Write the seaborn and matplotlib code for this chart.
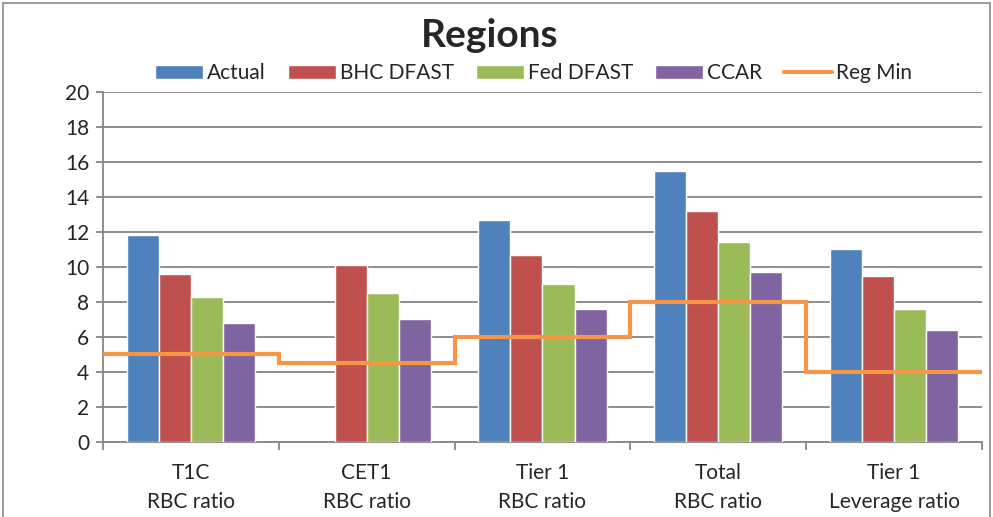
#!/usr/bin/env python3
"""
Regions capital ratios chart
Actual vs stress test results with regulatory minimum
"""

import numpy as np
import pandas as pd
import matplotlib.pyplot as plt
import seaborn as sns
from matplotlib.patches import Patch, Rectangle
from matplotlib.lines import Line2D
from matplotlib.ticker import FixedLocator

# Data
categories = ['T1C\nRBC ratio', 'CET1\nRBC ratio', 'Tier 1\nRBC ratio',
              'Total\nRBC ratio', 'Tier 1\nLeverage ratio']
series_names = ['Actual', 'BHC DFAST', 'Fed DFAST', 'CCAR']
actual = [11.8, np.nan, 12.7, 15.5, 11.0]
bhc_dfast = [9.6, 10.1, 10.7, 13.2, 9.5]
fed_dfast = [8.3, 8.5, 9.0, 11.4, 7.6]
ccar = [6.8, 7.0, 7.6, 9.7, 6.4]
reg_min = [5.0, 4.5, 6.0, 8.0, 4.0]

colors = ['#4F81BD', '#C0504D', '#9BBB59', '#8064A2']
line_color = '#F79646'
grid_color = '#868686'

sns.set_style('white')
plt.rcParams['font.family'] = ['Lato', 'DejaVu Sans']

# Long table for seaborn
df = pd.DataFrame({
    'category': categories * 4,
    'series': np.repeat(series_names, len(categories)),
    'value': actual + bhc_dfast + fed_dfast + ccar,
})

fig = plt.figure(figsize=(9.93, 5.17), dpi=100)
ax = fig.add_axes([0.1037, 0.1451, 0.8852, 0.677])

sns.barplot(data=df, x='category', y='value', hue='series', order=categories,
            hue_order=series_names, palette=colors, width=0.73, gap=0,
            saturation=1, legend=False, ax=ax, zorder=3)

# Reg Min as a step line across category boundaries
edges = np.arange(len(categories) + 1) - 0.5
ax.step(edges, reg_min + [reg_min[-1]], where='post', color=line_color,
        linewidth=3, zorder=4, solid_joinstyle='miter')

ax.set_xlim(-0.5, len(categories) - 0.5)
ax.set_ylim(0, 20)
ax.set_yticks(range(0, 21, 2))
ax.set_xlabel('')
ax.set_ylabel('')

# Gridlines and axes in Excel style
ax.yaxis.grid(True, color=grid_color, linewidth=1.3, zorder=0)
ax.set_axisbelow(True)
for side in ['top', 'right']:
    ax.spines[side].set_visible(False)
for side in ['left', 'bottom']:
    ax.spines[side].set_color(grid_color)
    ax.spines[side].set_linewidth(1.3)

ax.tick_params(axis='y', which='major', length=5, width=1.3, color=grid_color,
               direction='out', labelsize=15, pad=5, left=True)
ax.tick_params(axis='x', which='major', length=0, labelsize=15, pad=15)
ax.xaxis.set_minor_locator(FixedLocator(edges))
ax.tick_params(axis='x', which='minor', length=6, width=1.3, color=grid_color,
               direction='out', bottom=True)
for lbl in ax.get_xticklabels():
    lbl.set_linespacing(1.6)

# Legend
handles = [Patch(facecolor=c, label=n) for c, n in zip(colors, series_names)]
handles.append(Line2D([0], [0], color=line_color, linewidth=3, label='Reg Min'))
ax.legend(handles=handles, loc='lower center', bbox_to_anchor=(0.49, 0.995),
          ncol=5, frameon=False, fontsize=15, handlelength=2.3,
          handleheight=0.7, handletextpad=0.2, columnspacing=1.05,
          borderaxespad=0.1)

fig.suptitle('Regions', x=0.493, y=0.965, fontsize=28, fontweight='bold')

# Chart area border
fig.patches.append(Rectangle((0.003, -0.02), 0.994, 1.014, transform=fig.transFigure,
                             fill=False, edgecolor='#8a8a8a', linewidth=1.2))

plt.savefig('out.png', dpi=100)
plt.close()
